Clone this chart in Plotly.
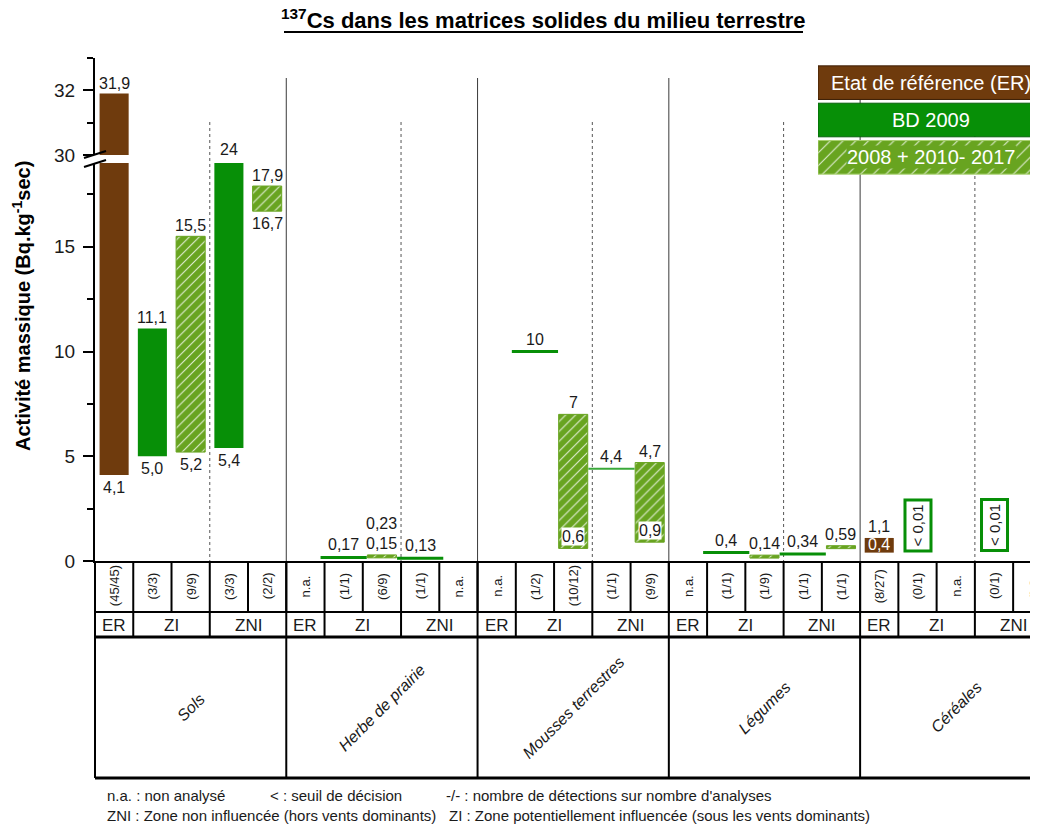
import plotly.graph_objects as go

# ---------------- data ----------------
groups = ["Sols", "Herbe de prairie", "Mousses terrestres", "Légumes", "Céréales"]
zone_labels = ["ER", "ZI", "ZNI"]
legend_labels = ["Etat de référence (ER)", "BD 2009", "2008 + 2010- 2017"]

er_min = [4.1, None, None, None, 0.4]
er_max = [31.9, None, None, None, 1.1]
zi_bd_min = [5.0, 0.17, 10, 0.4, None]
zi_bd_max = [11.1, 0.17, 10, 0.4, None]
zi_hist_min = [5.2, 0.15, 0.6, 0.14, None]
zi_hist_max = [15.5, 0.23, 7, 0.14, None]
zni_bd_min = [5.4, 0.13, 4.4, 0.34, None]
zni_bd_max = [24, 0.13, 4.4, 0.34, None]
zni_hist_min = [16.7, None, 0.9, 0.59, None]
zni_hist_max = [17.9, None, 4.7, 0.59, None]
# below decision threshold ("<" values)
zi_bd_dl = [None, None, None, None, 0.01]
zni_bd_dl = [None, None, None, None, 0.01]

er_counts = ["(45/45)", "n.a.", "n.a.", "n.a.", "(8/27)"]
zi_bd_counts = ["(3/3)", "(1/1)", "(1/2)", "(1/1)", "(0/1)"]
zi_hist_counts = ["(9/9)", "(6/9)", "(10/12)", "(1/9)", "n.a."]
zni_bd_counts = ["(3/3)", "(1/1)", "(1/1)", "(1/1)", "(0/1)"]
zni_hist_counts = ["(2/2)", "n.a.", "(9/9)", "(1/1)", "n.a."]

footnotes_1 = ["n.a. : non analysé", "< : seuil de décision", "-/- : nombre de détections sur nombre d'analyses"]
footnotes_2 = ["ZNI : Zone non influencée (hors vents dominants)", "ZI : Zone potentiellement influencée (sous les vents dominants)"]

series = [
    dict(key="er", mins=er_min, maxs=er_max, counts=er_counts, kind="er", dl=None),
    dict(key="zi_bd", mins=zi_bd_min, maxs=zi_bd_max, counts=zi_bd_counts, kind="bd", dl=zi_bd_dl),
    dict(key="zi_hist", mins=zi_hist_min, maxs=zi_hist_max, counts=zi_hist_counts, kind="hist", dl=None),
    dict(key="zni_bd", mins=zni_bd_min, maxs=zni_bd_max, counts=zni_bd_counts, kind="bd", dl=zni_bd_dl),
    dict(key="zni_hist", mins=zni_hist_min, maxs=zni_hist_max, counts=zni_hist_counts, kind="hist", dl=None),
]

# ---------------- style ----------------
BROWN = "#6f3b0d"
GREEN = "#078f07"
GREEN_LIGHT = "#3aa83a"
HATCH = "#68a420"
FONT = "Liberation Sans, Arial, sans-serif"
NARROW = "Liberation Sans Narrow, Arial Narrow, Liberation Sans, sans-serif"

OFF = 8                      # page body margin of the html page
PAGE_W, PAGE_H = 1038, 825
W, H = PAGE_W, PAGE_H - OFF
L, R, T, B = 95, 1038, 58, 561   # plot area in page pixels
X0, X1 = -0.5, 24.15
LOW_MAX = 19.0
UP_MIN, UP_MAX = 30.0, 33.0
LOW_TOP_PX = 163
UP_BOT_PX = 155
BAR_W = 0.76
MIN_THICK = 0.14  # minimal visual thickness for very thin hatched ranges

label_style = {
    (1, "zi_hist"): "stack",
    (2, "zi_hist"): "inside_white",
    (2, "zni_hist"): "inside_white",
    (4, "er"): "inside_brown",
}
thin_line = {(2, "zni_bd"): (2, GREEN_LIGHT)}


def px2x(px):
    return (px - L) / (R - L)


def px2y(py):
    return (B - py) / (B - T)


def kx(k):
    return (k - 0.5 - X0) / (X1 - X0)


def fmt(v):
    return str(v).replace(".", ",")


fig = go.Figure()
ann = []
shapes = []

LABEL_FONT = dict(family=FONT, size=16, color="#1a1a1a")
HATCH_PATTERN = dict(shape="/", fgcolor="white", fgopacity=0.8, size=7, solidity=0.16, fillmode="overlay")


def lab(x, y, text, yanchor="bottom", yshift=0, yref="y", **kw):
    d = dict(x=x, y=y, xref="x", yref=yref, text=text, showarrow=False,
             yanchor=yanchor, xanchor="center", yshift=yshift, font=kw.pop("font", LABEL_FONT))
    d.update(kw)
    ann.append(d)


bars = {"er": dict(x=[], base=[], h=[]), "bd": dict(x=[], base=[], h=[]), "hist": dict(x=[], base=[], h=[])}
line_pts = []

for si, s in enumerate(series):
    for g in range(len(groups)):
        col = g * 5 + si
        vmin, vmax = s["mins"][g], s["maxs"][g]
        st = label_style.get((g, s["key"]))
        if vmin is not None:
            single = vmin == vmax
            if single and s["kind"] == "bd":
                w, c = thin_line.get((g, s["key"]), (3, GREEN))
                line_pts.append((col, vmin, w, c))
                lab(col, vmin, fmt(vmin), yshift=2)
            else:
                h = vmax - vmin
                if h < MIN_THICK:
                    h = MIN_THICK
                bars[s["kind"]]["x"].append(col)
                bars[s["kind"]]["base"].append(vmin)
                bars[s["kind"]]["h"].append(h)
                top = vmin + h
                if single:
                    lab(col, top, fmt(vmax), yshift=1)
                elif st == "stack":
                    lab(col, top, fmt(vmin), yshift=1)
                    lab(col, top, fmt(vmax), yshift=21)
                elif st == "inside_white":
                    lab(col, vmax, fmt(vmax), yshift=1)
                    lab(col, vmin, fmt(vmin), yshift=2, bgcolor="white", borderpad=0)
                elif st == "inside_brown":
                    lab(col, vmax, fmt(vmax), yshift=1)
                    lab(col, vmin, fmt(vmin), yshift=-1, borderpad=0,
                        font=dict(family=FONT, size=16, color="white"))
                else:
                    if vmax > UP_MIN:
                        lab(col, vmax, fmt(vmax), yref="y2", yshift=0)
                    elif vmax > LOW_MAX:
                        lab(col, LOW_MAX, fmt(vmax), yshift=3)
                    else:
                        lab(col, vmax, fmt(vmax), yshift=0)
                    lab(col, vmin, fmt(vmin), yanchor="top", yshift=-2)
        if s["dl"] is not None and s["dl"][g] is not None:
            lab(col, 0, "< " + fmt(s["dl"][g]), yshift=9, textangle=-90, bgcolor="white",
                bordercolor=GREEN, borderwidth=3, borderpad=3,
                font=dict(family=FONT, size=15, color="#1a1a1a"))
        # count labels in table row 1
        ann.append(dict(x=col, y=px2y(586), xref="x", yref="paper", text=s["counts"][g],
                        showarrow=False, textangle=-90, xanchor="center", yanchor="middle",
                        font=dict(family=FONT, size=13, color="#1a1a1a")))

kind_marker = {
    "er": dict(color=BROWN, line=dict(width=0)),
    "bd": dict(color=GREEN, line=dict(width=0)),
    "hist": dict(color=HATCH, line=dict(width=1, color=HATCH), pattern=HATCH_PATTERN),
}
for kind, d in bars.items():
    for ya in ("y", "y2"):
        fig.add_trace(go.Bar(x=d["x"], y=d["h"], base=d["base"], width=BAR_W, marker=kind_marker[kind],
                             xaxis="x", yaxis=ya, hoverinfo="skip"))

for col, v, w, c in line_pts:
    fig.add_trace(go.Scatter(x=[col], y=[v], mode="markers", xaxis="x", yaxis="y", hoverinfo="skip",
                             marker=dict(symbol="line-ew", size=33, line=dict(width=w, color=c))))

# legend boxes (separate small subplot)
leg_colors = [BROWN, GREEN, HATCH]
fig.add_trace(go.Bar(y=[0, 1], x=[1, 1], orientation="h", width=0.9, xaxis="x2", yaxis="y3",
                     marker=dict(color=leg_colors[:2], line=dict(width=1, color=["#3d1f05", "#05600a"])),
                     hoverinfo="skip"))
fig.add_trace(go.Bar(y=[2], x=[1], orientation="h", width=0.9, xaxis="x2", yaxis="y3",
                     marker=dict(color=HATCH, line=dict(width=1, color="#a8d070"),
                                 pattern=dict(shape="/", fgcolor="white", fgopacity=0.8, size=9, solidity=0.12,
                                              fillmode="overlay")),
                     hoverinfo="skip"))
for i, t in enumerate(legend_labels):
    ann.append(dict(x=px2x(931), y=i, xref="paper", yref="y3", text=t, showarrow=False,
                    xanchor="center", yanchor="middle", borderpad=0,
                    bgcolor=HATCH if i == 2 else None,
                    font=dict(family=FONT, size=20, color="white")))

# ---------------- separators & table ----------------
def vline(k, y0, y1, width=1, color="black", dash="solid"):
    shapes.append(dict(type="line", xref="paper", yref="paper", x0=kx(k), x1=kx(k),
                       y0=px2y(y0), y1=px2y(y1), line=dict(width=width, color=color, dash=dash), layer="below"))


def hline(py, width=2):
    shapes.append(dict(type="line", xref="paper", yref="paper", x0=0, x1=1.02, y0=px2y(py), y1=px2y(py),
                       line=dict(width=width, color="black")))


n_groups = len(groups)
for g in range(1, n_groups):
    vline(g * 5, 78, B, width=1, color="#3a3a3a")
    vline(g * 5, B, 778, width=2)
for g in range(n_groups):
    vline(g * 5 + 3, 122, B, width=1, color="#555555", dash="dot")
    for k in (1, 2, 3, 4, 5):
        vline(g * 5 + k, B, 612, width=2)
    for k in (1, 3):
        vline(g * 5 + k, 612, 637, width=2)
vline(0, B, 778, width=2)
hline(612, 2)
hline(637, 3)
hline(778, 3)

for g, name in enumerate(groups):
    base = g * 5
    for zx, zt in zip((base, base + 1.5, base + 3.5), zone_labels):
        ann.append(dict(x=zx, y=px2y(625), xref="x", yref="paper", text=zt, showarrow=False,
                        xanchor="center", yanchor="middle", font=dict(family=FONT, size=17, color="#1a1a1a")))
    ann.append(dict(x=base + 2, y=px2y(707), xref="x", yref="paper", text="<i>" + name + "</i>",
                    showarrow=False, textangle=-45, xanchor="center", yanchor="middle",
                    font=dict(family=FONT, size=16, color="#1a1a1a")))

# footnotes
for t, px in zip(footnotes_1, (105, 268, 444)):
    ann.append(dict(x=px2x(px), y=px2y(795), xref="paper", yref="paper", text=t, showarrow=False,
                    xanchor="left", yanchor="middle", font=dict(family=NARROW, size=15, color="#1a1a1a")))
for t, px in zip(footnotes_2, (105, 447)):
    ann.append(dict(x=px2x(px), y=px2y(815), xref="paper", yref="paper", text=t, showarrow=False,
                    xanchor="left", yanchor="middle", font=dict(family=NARROW, size=15, color="#1a1a1a")))

# axis break marks
for dy in (0, 9):
    shapes.append(dict(type="line", xref="paper", yref="paper", x0=px2x(84), x1=px2x(106),
                       y0=px2y(158 + dy), y1=px2y(151 + dy), line=dict(width=2, color="black")))

# title and y-axis title
ann.append(dict(x=px2x(543), y=px2y(19), xref="paper", yref="paper",
                text="<b><sup>137</sup>Cs dans les matrices solides du milieu terrestre</b>",
                showarrow=False, xanchor="center", yanchor="middle",
                font=dict(family=FONT, size=22, color="black")))
shapes.append(dict(type="line", xref="paper", yref="paper", x0=px2x(284), x1=px2x(803),
                   y0=px2y(32), y1=px2y(32), line=dict(width=2, color="black")))
ann.append(dict(x=px2x(21), y=px2y(306), xref="paper", yref="paper",
                text="<b>Activité massique (Bq.kg<sup>-1</sup>sec)</b>", showarrow=False, textangle=-90,
                xanchor="center", yanchor="middle", font=dict(family=FONT, size=20, color="black")))

axis_common = dict(ticks="outside", ticklen=10, tickwidth=2, tickcolor="black", showline=True, linewidth=2,
                   linecolor="black", showgrid=False, zeroline=False, anchor="x",
                   tickfont=dict(family=FONT, size=19, color="#1a1a1a"), ticklabelstandoff=4)

fig.update_layout(
    width=W, height=H, margin=dict(l=L - OFF, r=PAGE_W - R + OFF, t=T - OFF, b=PAGE_H - B, pad=0),
    paper_bgcolor="white", plot_bgcolor="rgba(0,0,0,0)",
    showlegend=False, barmode="overlay",
    xaxis=dict(domain=[0, 1], range=[X0, X1], showline=True, linewidth=2, linecolor="black",
               showticklabels=False, ticks="", showgrid=False, zeroline=False, anchor="y"),
    yaxis=dict(domain=[0, px2y(LOW_TOP_PX)], range=[0, LOW_MAX], dtick=5, tick0=0,
               minor=dict(dtick=2.5, tick0=0, ticks="outside", ticklen=6, tickwidth=2, tickcolor="black"),
               **axis_common),
    yaxis2=dict(domain=[px2y(UP_BOT_PX), 1], range=[UP_MIN, UP_MAX], dtick=2, tick0=30,
                minor=dict(dtick=1, tick0=30, ticks="outside", ticklen=6, tickwidth=2, tickcolor="black"),
                **axis_common),
    xaxis2=dict(domain=[px2x(818), 1], range=[0, 0.974], visible=False, anchor="y3", fixedrange=True),
    yaxis3=dict(domain=[px2y(176), px2y(64)], range=[2.5, -0.5], visible=False, anchor="x2", fixedrange=True),
    annotations=ann, shapes=shapes,
)

fig.write_html("out.html")
